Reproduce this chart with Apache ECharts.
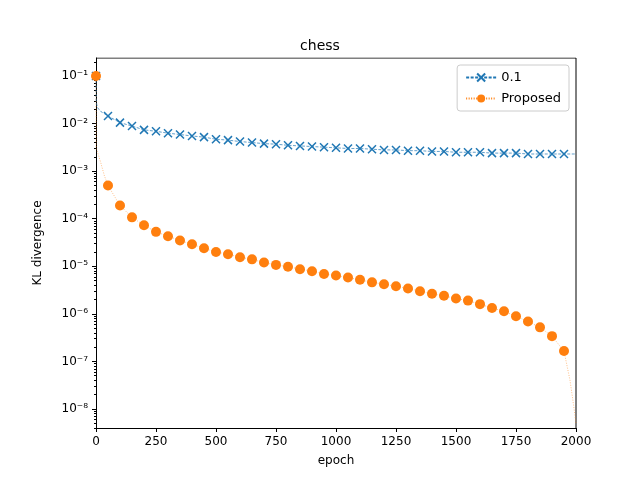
<!DOCTYPE html>
<html>
<head>
<meta charset="utf-8">
<script src="https://cdn.jsdelivr.net/npm/echarts@6/dist/echarts.min.js"></script>
</head>
<body style="margin:0">
<div id="main" style="width:640px;height:480px"></div>
<script>
// values (log scale), markers every 50 epochs
var epochs = [0, 50, 100, 150, 200, 250, 300, 350, 400, 450, 500, 550, 600, 650, 700, 750, 800, 850, 900, 950,
  1000, 1050, 1100, 1150, 1200, 1250, 1300, 1350, 1400, 1450, 1500, 1550, 1600, 1650, 1700, 1750, 1800, 1850, 1900, 1950];
var base01 = [0.1, 0.0145, 0.0105, 0.0089, 0.0074, 0.0069, 0.0063, 0.0059, 0.0055, 0.0052, 0.0047, 0.0045, 0.0042, 0.0040, 0.0038, 0.0037, 0.0035, 0.0034, 0.0033, 0.0032,
  0.0031, 0.0030, 0.0030, 0.0029, 0.0028, 0.0028, 0.0027, 0.0027, 0.0026, 0.0026, 0.0025, 0.0025, 0.0025, 0.0024, 0.0024, 0.0024, 0.0023, 0.0023, 0.0023, 0.0023];
var proposed = [0.1, 5.0e-4, 1.9e-4, 1.07e-4, 7.3e-5, 5.3e-5, 4.3e-5, 3.5e-5, 2.9e-5, 2.4e-5, 2.0e-5, 1.8e-5, 1.55e-5, 1.4e-5, 1.2e-5, 1.07e-5, 9.8e-6, 8.7e-6, 7.9e-6, 6.9e-6,
  6.4e-6, 5.8e-6, 5.2e-6, 4.6e-6, 4.2e-6, 3.8e-6, 3.4e-6, 3.0e-6, 2.65e-6, 2.4e-6, 2.1e-6, 1.9e-6, 1.6e-6, 1.33e-6, 1.13e-6, 8.9e-7, 6.9e-7, 5.2e-7, 3.4e-7, 1.65e-7];
// extra unmarked points of the continuous curves
var base01Extra = [[1, 0.03], [5, 0.022], [20, 0.018], [2000, 0.0023]];
var proposedExtra = [[1, 3e-3], [10, 2.2e-3], [20, 1.5e-3], [35, 8e-4], [1975, 4e-8], [1990, 1.2e-8], [2000, 5e-9]];
var yExps = [-8, -7, -6, -5, -4, -3, -2, -1];

var sup = {'-': '⁻', '0': '⁰', '1': '¹', '2': '²', '3': '³', '4': '⁴', '5': '⁵', '6': '⁶', '7': '⁷', '8': '⁸', '9': '⁹'};
function pow10(e) { return '10' + String(e).split('').map(function (c) { return sup[c]; }).join(''); }

function buildSeries(vals, extra) {
  var pts = epochs.map(function (x, i) { return { value: [x, Math.log10(vals[i])] }; });
  extra.forEach(function (p) { pts.push({ value: [p[0], Math.log10(p[1])], symbol: 'none' }); });
  pts.sort(function (a, b) { return a.value[0] - b.value[0]; });
  return pts;
}

var minorTicks = [];
yExps.concat([-9, 0]).forEach(function (e) {
  for (var k = 2; k < 10; k++) minorTicks.push(e + Math.log10(k));
});

var yMin = -8.4, yMax = -0.62;
var crossPath = 'path://M0,0L10,10M10,0L0,10';
var font = 'DejaVu Sans';

var chart = echarts.init(document.getElementById('main'));
chart.setOption({
  animation: false,
  textStyle: { fontFamily: font },
  title: { text: 'chess', left: 'center', top: 34, textStyle: { fontSize: 14, fontWeight: 'normal', color: '#000', fontFamily: font } },
  grid: { left: 96, right: 64, top: 58, bottom: 52 },
  legend: {
    right: 71, top: 65, orient: 'vertical', itemGap: 8, itemWidth: 30, itemHeight: 10,
    borderColor: '#ccc', borderWidth: 1, borderRadius: 3, padding: [6, 8],
    textStyle: { fontSize: 13, color: '#000' },
    data: ['0.1', 'Proposed']
  },
  xAxis: {
    type: 'value', min: 0, max: 2000, interval: 250,
    name: 'epoch', nameLocation: 'middle', nameGap: 27, nameTextStyle: { fontSize: 12, color: '#000' },
    axisLine: { lineStyle: { color: '#000' } },
    axisTick: { inside: false, length: 4, lineStyle: { color: '#000' } },
    axisLabel: { color: '#000', fontSize: 12, showMaxLabel: true, formatter: function (v) { return String(v); } },
    splitLine: { show: false }
  },
  yAxis: [{
    type: 'value', min: yMin, max: yMax,
    name: 'KL divergence', nameLocation: 'middle', nameGap: 52, nameTextStyle: { fontSize: 12, color: '#000' },
    axisLine: { show: true, lineStyle: { color: '#000' } },
    axisTick: { length: 4, customValues: yExps, lineStyle: { color: '#000' } },
    axisLabel: { customValues: yExps, color: '#000', fontSize: 12, formatter: function (v) { return pow10(Math.round(v)); } },
    splitLine: { show: false }
  }, {
    type: 'value', min: yMin, max: yMax, position: 'left',
    axisLine: { show: false },
    axisTick: { length: 2, customValues: minorTicks.filter(function (v) { return v > yMin && v < yMax; }), lineStyle: { color: '#000' } },
    axisLabel: { show: false },
    splitLine: { show: false }
  }],
  series: [{
    name: '0.1', type: 'line', data: buildSeries(base01, base01Extra),
    symbol: crossPath, symbolSize: 8, showAllSymbol: true,
    lineStyle: { color: '#1f77b4', width: 0.7, type: [3, 1.5] },
    itemStyle: { color: '#1f77b4', borderColor: '#1f77b4', borderWidth: 1.5 },
    z: 3
  }, {
    name: 'Proposed', type: 'line', data: buildSeries(proposed, proposedExtra),
    symbol: 'circle', symbolSize: 10, showAllSymbol: true,
    lineStyle: { color: '#ff7f0e', width: 0.5, type: [1, 1.5] },
    itemStyle: { color: '#ff7f0e' },
    z: 4
  }, {
    type: 'line', data: [[0, yMax], [2000, yMax]], symbol: 'none', silent: true,
    lineStyle: { color: '#000', width: 1 }
  }, {
    type: 'line', data: [[2000, yMin], [2000, yMax]], symbol: 'none', silent: true,
    lineStyle: { color: '#000', width: 1 }
  }]
});
</script>
</body>
</html>
